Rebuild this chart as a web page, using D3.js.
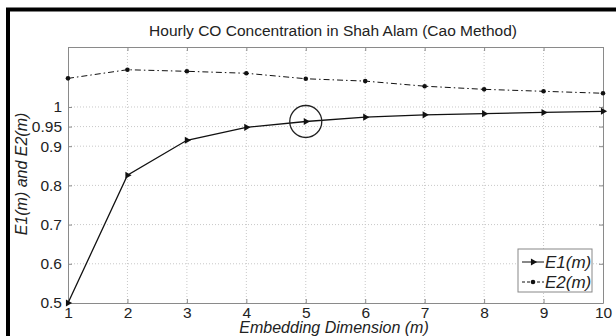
<!DOCTYPE html>
<html>
<head>
<meta charset="utf-8">
<script src="https://cdn.jsdelivr.net/npm/d3@7"></script>
<style>
  body { margin: 0; background: #fff; }
  svg { display: block; font-family: "Liberation Sans", Arial, sans-serif; }
</style>
</head>
<body>
<svg id="chart" width="616" height="336"></svg>
<script>
// Embedding dimension m
const dims = [1, 2, 3, 4, 5, 6, 7, 8, 9, 10];
// Cao method values
const e1Values = [0.5, 0.826, 0.915, 0.948, 0.963, 0.974, 0.980, 0.983, 0.986, 0.989];
const e2Values = [1.073, 1.095, 1.091, 1.086, 1.072, 1.066, 1.053, 1.045, 1.040, 1.035];
const yTicks = [0.5, 0.6, 0.7, 0.8, 0.9, 0.95, 1];
const yTickLabels = ['0.5', '0.6', '0.7', '0.8', '0.9', '0.95', '1'];
const highlightDim = 5;

const margin = { top: 47, right: 13, bottom: 33, left: 68 };
const width = 616 - margin.left - margin.right;
const height = 336 - margin.top - margin.bottom;

const svg = d3.select('#chart');

// outer thick frame (runs off the right and bottom of the picture)
svg.append('rect')
    .attr('x', 8).attr('y', 9.5)
    .attr('width', 640).attr('height', 360)
    .attr('fill', 'none').attr('stroke', '#000').attr('stroke-width', 4);

const chart = svg.append('g')
    .attr('transform', `translate(${margin.left},${margin.top})`);

const xScale = d3.scaleLinear().domain([1, 10]).range([0, width]);
const yScale = d3.scaleLinear().domain([0.5, 1.153]).range([height, 0]);

// grid
chart.append('g').selectAll('line.vgrid')
    .data(dims.slice(1, -1))
    .join('line')
    .attr('x1', d => xScale(d)).attr('x2', d => xScale(d))
    .attr('y1', 0).attr('y2', height)
    .attr('stroke', '#c8c8c8').attr('stroke-dasharray', '1,2');

chart.append('g').selectAll('line.hgrid')
    .data(yTicks.slice(1))
    .join('line')
    .attr('x1', 0).attr('x2', width)
    .attr('y1', d => yScale(d)).attr('y2', d => yScale(d))
    .attr('stroke', '#c8c8c8').attr('stroke-dasharray', '1,2');

// axes
const xAxis = d3.axisBottom(xScale).tickValues(dims).tickFormat(d3.format('d'))
    .tickSizeInner(-4).tickSizeOuter(0).tickPadding(6);
const yAxis = d3.axisLeft(yScale).tickValues(yTicks)
    .tickFormat((d, i) => yTickLabels[i])
    .tickSizeInner(-4).tickSizeOuter(0).tickPadding(6);

const xAxisG = chart.append('g')
    .attr('transform', `translate(0,${height})`)
    .call(xAxis);
const yAxisG = chart.append('g').call(yAxis);

// top and right frame lines
const xAxisTop = d3.axisTop(xScale).tickValues(dims).tickFormat('').tickSizeInner(-4).tickSizeOuter(0);
const yAxisRight = d3.axisRight(yScale).tickValues(yTicks).tickFormat('').tickSizeInner(-4).tickSizeOuter(0);
chart.append('g').call(xAxisTop);
chart.append('g').attr('transform', `translate(${width},0)`).call(yAxisRight);

chart.selectAll('.domain, .tick line').attr('stroke', '#8a8a8a');
xAxisG.selectAll('text').attr('font-size', 15.5).attr('fill', '#222').attr('dy', '0.55em');
yAxisG.selectAll('text').attr('font-size', 15.5).attr('fill', '#222');

// lines
const line = d3.line()
    .x((d, i) => xScale(dims[i]))
    .y(d => yScale(d));

chart.append('path')
    .datum(e2Values)
    .attr('d', line)
    .attr('fill', 'none').attr('stroke', '#111').attr('stroke-width', 1)
    .attr('stroke-dasharray', '6,3,1.5,3');

chart.append('path')
    .datum(e1Values)
    .attr('d', line)
    .attr('fill', 'none').attr('stroke', '#111').attr('stroke-width', 1.3);

// markers
chart.selectAll('circle.e2')
    .data(e2Values)
    .join('circle')
    .attr('cx', (d, i) => xScale(dims[i]))
    .attr('cy', d => yScale(d))
    .attr('r', 2.3).attr('fill', '#111');

const tri = d3.symbol().type(d3.symbolTriangle).size(22);
chart.selectAll('path.e1')
    .data(e1Values)
    .join('path')
    .attr('d', tri)
    .attr('transform', (d, i) => `translate(${xScale(dims[i])},${yScale(d)}) rotate(90)`)
    .attr('fill', '#111');

// highlight circle at m = 5
chart.append('circle')
    .attr('cx', xScale(highlightDim))
    .attr('cy', yScale(e1Values[dims.indexOf(highlightDim)]))
    .attr('r', 16)
    .attr('fill', 'none').attr('stroke', '#222').attr('stroke-width', 1.3);

// legend
const legend = chart.append('g')
    .attr('transform', `translate(${518 - margin.left},${249 - margin.top})`);
legend.append('rect')
    .attr('width', 74).attr('height', 43)
    .attr('fill', '#fff').attr('stroke', '#888');
const legendItems = [
    { label: 'E1(m)', dash: null, marker: 'tri' },
    { label: 'E2(m)', dash: '3,2', marker: 'dot' }
];
legendItems.forEach((item, i) => {
    const y = 13 + i * 20;
    legend.append('line')
        .attr('x1', 4).attr('x2', 26).attr('y1', y).attr('y2', y)
        .attr('stroke', '#111').attr('stroke-dasharray', item.dash);
    if (item.marker === 'tri') {
        legend.append('path').attr('d', tri)
            .attr('transform', `translate(15,${y}) rotate(90)`).attr('fill', '#111');
    } else {
        legend.append('circle').attr('cx', 15).attr('cy', y).attr('r', 2.3).attr('fill', '#111');
    }
    legend.append('text')
        .attr('x', 27).attr('y', y + 6)
        .attr('font-size', 17).attr('font-style', 'italic').attr('fill', '#222')
        .text(item.label);
});

// title and axis labels
svg.append('text')
    .attr('x', 333).attr('y', 36)
    .attr('text-anchor', 'middle')
    .attr('font-size', 15.5).attr('fill', '#222')
    .text('Hourly CO Concentration in Shah Alam (Cao Method)');

svg.append('text')
    .attr('x', 334).attr('y', 333)
    .attr('text-anchor', 'middle')
    .attr('font-size', 16).attr('font-style', 'italic').attr('fill', '#222')
    .text('Embedding Dimension (m)');

svg.append('text')
    .attr('transform', 'translate(27,174) rotate(-90)')
    .attr('text-anchor', 'middle')
    .attr('font-size', 16).attr('font-style', 'italic').attr('fill', '#222')
    .text('E1(m) and E2(m)');
</script>
</body>
</html>
